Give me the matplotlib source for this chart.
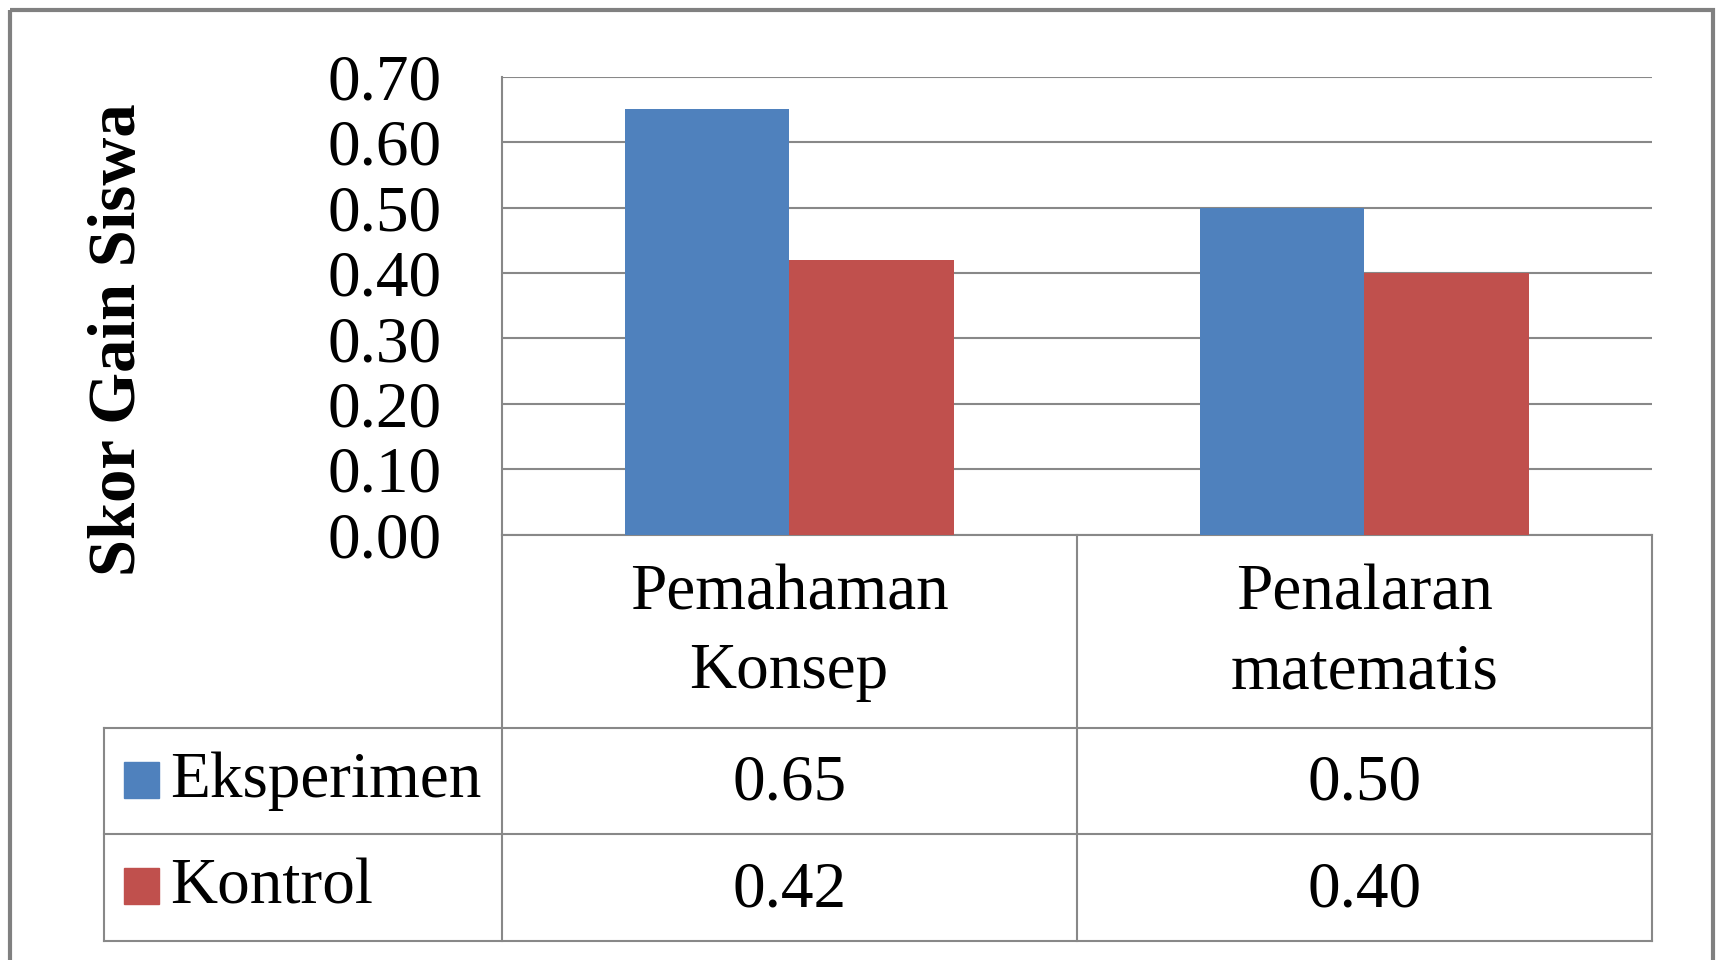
import numpy as np
import matplotlib.pyplot as plt

# data
categories = [["Pemahaman", "Konsep"], ["Penalaran", "matematis"]]
series_names = ["Eksperimen", "Kontrol"]
eksperimen = [0.65, 0.50]
kontrol = [0.42, 0.40]
y_ticks = [0.0, 0.1, 0.2, 0.3, 0.4, 0.5, 0.6, 0.7]

colors = ["#4F81BD", "#C0504D"]
grid_col = "#888888"
W, H = 1721, 960

plt.rcParams["font.family"] = ["Liberation Serif", "DejaVu Serif"]
fs = 47

fig = plt.figure(figsize=(W / 100, H / 100), dpi=100)

# plot area in pixel coords
px_left, px_right, px_top, px_bottom = 501.6, 1651.9, 76.8, 534.5
ax = fig.add_axes([px_left / W, 1 - px_bottom / H,
                   (px_right - px_left) / W, (px_bottom - px_top) / H])

x = np.arange(len(categories))
bw = 1 / 3.5
ax.bar(x - bw / 2, eksperimen, bw, color=colors[0], zorder=3)
ax.bar(x + bw / 2, kontrol, bw, color=colors[1], zorder=3)

ax.set_xlim(-0.5, len(categories) - 0.5)
ax.set_ylim(0, 0.7)
ax.set_yticks(y_ticks)
ax.set_yticklabels([f"{v:.2f}" for v in y_ticks], fontsize=fs)
ax.set_xticks([])
ax.tick_params(axis="y", length=0, pad=43)
ax.yaxis.grid(True, color=grid_col, linewidth=1.5, zorder=0)
for s in ["top", "right"]:
    ax.spines[s].set_visible(False)
for s in ["left", "bottom"]:
    ax.spines[s].set_color(grid_col)
    ax.spines[s].set_linewidth(1.5)

fig.text(118 / W, 1 - 340 / H, "Skor Gain Siswa", rotation=90, fontsize=48,
         fontweight="bold", ha="center", va="center")

# data table drawn in pixel space
ov = fig.add_axes([0, 0, 1, 1])
ov.set_xlim(0, W)
ov.set_ylim(H, 0)
ov.axis("off")

tbl_left, tbl_mid = 104.3, 1076.7
row_y = [px_bottom, 727.7, 834.2, 940.6]
lk = dict(color=grid_col, linewidth=1.5)

# header row verticals
ov.plot([px_left, px_left], [row_y[0], row_y[-1]], **lk)
ov.plot([tbl_mid, tbl_mid], [row_y[0], row_y[-1]], **lk)
ov.plot([px_right, px_right], [row_y[0], row_y[-1]], **lk)
ov.plot([tbl_left, tbl_left], [row_y[1], row_y[-1]], **lk)
for yy in row_y[1:]:
    ov.plot([tbl_left, px_right], [yy, yy], **lk)

col_centers = [(px_left + tbl_mid) / 2, (tbl_mid + px_right) / 2]
hdr_c = (row_y[0] + row_y[1]) / 2
for cx, lab in zip(col_centers, categories):
    ov.text(cx, hdr_c + 2, "\n".join(lab), fontsize=fs, ha="center", va="center",
            linespacing=1.43)

series_vals = [eksperimen, kontrol]
for i, (name, vals) in enumerate(zip(series_names, series_vals)):
    rc = (row_y[i + 1] + row_y[i + 2]) / 2
    ov.add_patch(plt.Rectangle((124, rc - 17 - 2), 35, 36, color=colors[i]))
    ov.text(170, rc, name, fontsize=fs, ha="left", va="center")
    for cx, v in zip(col_centers, vals):
        ov.text(cx, rc + 3, f"{v:.2f}", fontsize=fs, ha="center", va="center")

# outer chart border
ov.add_patch(plt.Rectangle((10, 10), 1703, 980, fill=False,
                           edgecolor="#808080", linewidth=3))

fig.savefig("out.png", dpi=100)
